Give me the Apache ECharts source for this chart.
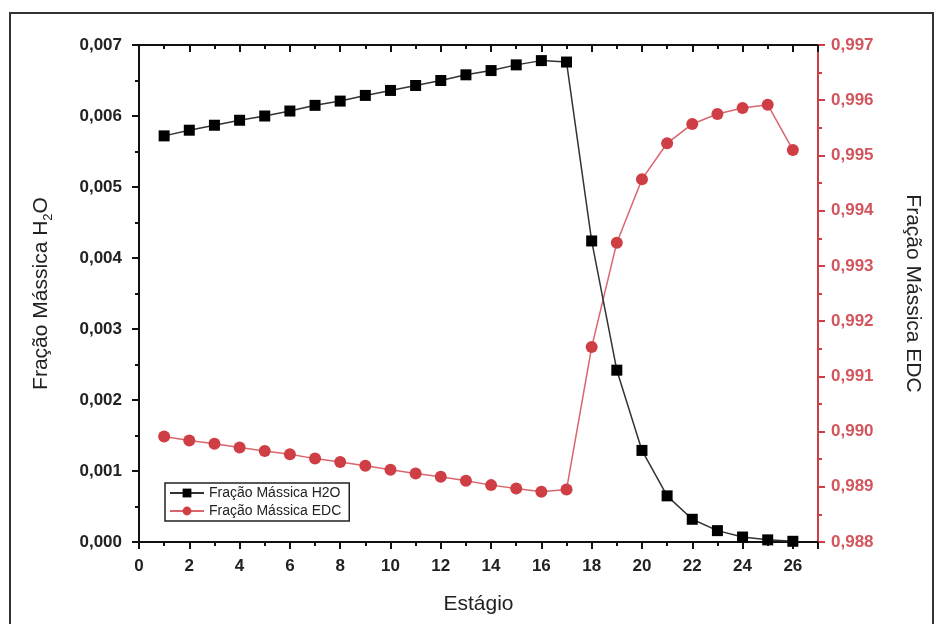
<!DOCTYPE html>
<html>
<head>
<meta charset="utf-8">
<script src="https://cdn.jsdelivr.net/npm/echarts@6/dist/echarts.min.js"></script>
<style>
  html, body { margin: 0; padding: 0; background: #fff; }
  #chart { width: 936px; height: 624px; }
</style>
</head>
<body>
<div id="chart"></div>
<script>
// estágios da coluna
var estagios = [1, 2, 3, 4, 5, 6, 7, 8, 9, 10, 11, 12, 13, 14, 15, 16, 17, 18, 19, 20, 21, 22, 23, 24, 25, 26];

// fração mássica de água (eixo esquerdo)
var fracaoH2O = [0.00572, 0.00580, 0.00587, 0.00594, 0.00600, 0.00607, 0.00615, 0.00621, 0.00629, 0.00636,
                 0.00643, 0.00650, 0.00658, 0.00664, 0.00672, 0.00678, 0.00676, 0.00424, 0.00242, 0.00129,
                 0.00065, 0.00032, 0.00016, 0.00007, 0.00003, 0.00001];

// fração mássica de EDC (eixo direito)
var fracaoEDC = [0.98991, 0.98984, 0.98978, 0.98971, 0.98965, 0.98959, 0.98951, 0.98945, 0.98938, 0.98931,
                 0.98924, 0.98918, 0.98911, 0.98903, 0.98897, 0.98891, 0.98895, 0.99153, 0.99342, 0.99457,
                 0.99522, 0.99557, 0.99575, 0.99586, 0.99592, 0.99510];

var nomes = ['Fração Mássica H2O', 'Fração Mássica EDC'];

var chartDom = document.getElementById('chart');
var myChart = echarts.init(chartDom);

var tickFont = 'Liberation Sans, Arial';
var vermelho = '#cf3d45';

function virgula(v, casas) {
    return v.toFixed(casas).replace('.', ',');
}

function pares(ys) {
    return estagios.map(function (x, i) { return [x, ys[i]]; });
}

var option = {
    backgroundColor: '#fff',
    animation: false,
    grid: { left: 139, right: 118, top: 45, bottom: 82 },
    legend: {
        left: 165,
        top: 483,
        orient: 'vertical',
        itemGap: 4,
        itemWidth: 34,
        itemHeight: 11,
        padding: [3, 8, 3, 4],
        borderColor: '#222',
        borderWidth: 1.5,
        textStyle: { fontFamily: tickFont, fontSize: 14, color: '#222' },
        data: nomes
    },
    xAxis: [{
        type: 'value',
        min: 0,
        max: 27,
        interval: 2,
        name: 'Estágio',
        nameLocation: 'middle',
        nameGap: 52,
        nameTextStyle: { fontFamily: 'Liberation Sans, Arial', fontSize: 21, color: '#222' },
        axisLine: { onZero: false, lineStyle: { color: '#111', width: 2 } },
        axisTick: { inside: false, length: 7, lineStyle: { color: '#111', width: 2 } },
        minorTick: { show: true, splitNumber: 2, length: 4, lineStyle: { color: '#111', width: 2 } },
        axisLabel: {
            showMaxLabel: false,
            margin: 16,
            fontFamily: tickFont,
            fontSize: 17,
            fontWeight: 'bold',
            color: '#222'
        },
        splitLine: { show: false }
    }, {
        type: 'value',
        position: 'top',
        min: 0,
        max: 27,
        interval: 2,
        axisLine: { onZero: false, lineStyle: { color: '#111', width: 2 } },
        axisTick: { inside: true, length: 7, lineStyle: { color: '#111', width: 2 } },
        minorTick: { show: true, splitNumber: 2, length: 4, lineStyle: { color: '#111', width: 2 } },
        axisLabel: { show: false },
        splitLine: { show: false }
    }],
    yAxis: [{
        type: 'value',
        min: 0,
        max: 0.007,
        interval: 0.001,
        name: 'Fração Mássica H{sub|2}O',
        nameLocation: 'middle',
        nameGap: 84,
        nameRotate: 90,
        nameTextStyle: {
            fontFamily: 'Liberation Sans, Arial',
            fontSize: 21,
            color: '#222',
            rich: {
                sub: { fontFamily: 'Liberation Sans, Arial', fontSize: 13, color: '#222', verticalAlign: 'bottom', padding: [14, 0, 0, 0] }
            }
        },
        axisLine: { show: true, onZero: false, lineStyle: { color: '#111', width: 2 } },
        axisTick: { inside: false, length: 7, lineStyle: { color: '#111', width: 2 } },
        minorTick: { show: true, splitNumber: 2, length: 4, lineStyle: { color: '#111', width: 2 } },
        axisLabel: {
            margin: 17,
            fontFamily: tickFont,
            fontSize: 17,
            fontWeight: 'bold',
            color: '#222',
            formatter: function (v) { return virgula(v, 3); }
        },
        splitLine: { show: false }
    }, {
        type: 'value',
        position: 'right',
        min: 0.988,
        max: 0.997,
        interval: 0.001,
        name: 'Fração Mássica EDC',
        nameLocation: 'middle',
        nameGap: 84,
        nameRotate: -90,
        nameTextStyle: { fontFamily: 'Liberation Sans, Arial', fontSize: 21, color: '#222' },
        axisLine: { show: true, onZero: false, lineStyle: { color: vermelho, width: 2 } },
        axisTick: { inside: false, length: 7, lineStyle: { color: vermelho, width: 2 } },
        minorTick: { show: true, splitNumber: 2, length: 4, lineStyle: { color: vermelho, width: 2 } },
        axisLabel: {
            margin: 13,
            fontFamily: tickFont,
            fontSize: 17,
            fontWeight: 'bold',
            color: '#d2555d',
            formatter: function (v) { return virgula(v, 3); }
        },
        splitLine: { show: false }
    }],
    graphic: [{
        type: 'polyline',
        shape: { points: [[10, 640], [10, 13], [933, 13], [933, 640]] },
        style: { stroke: '#333', lineWidth: 2, fill: null },
        silent: true
    }],
    series: [{
        name: nomes[0],
        type: 'line',
        xAxisIndex: 0,
        yAxisIndex: 0,
        data: pares(fracaoH2O),
        symbol: 'rect',
        symbolSize: 11,
        itemStyle: { color: '#000' },
        lineStyle: { color: '#333', width: 1.5 },
        z: 3
    }, {
        name: nomes[1],
        type: 'line',
        xAxisIndex: 0,
        yAxisIndex: 1,
        data: pares(fracaoEDC),
        symbol: 'circle',
        symbolSize: 12,
        itemStyle: { color: vermelho },
        lineStyle: { color: '#d9666c', width: 1.5 },
        z: 2
    }]
};

myChart.setOption(option);
</script>
</body>
</html>
